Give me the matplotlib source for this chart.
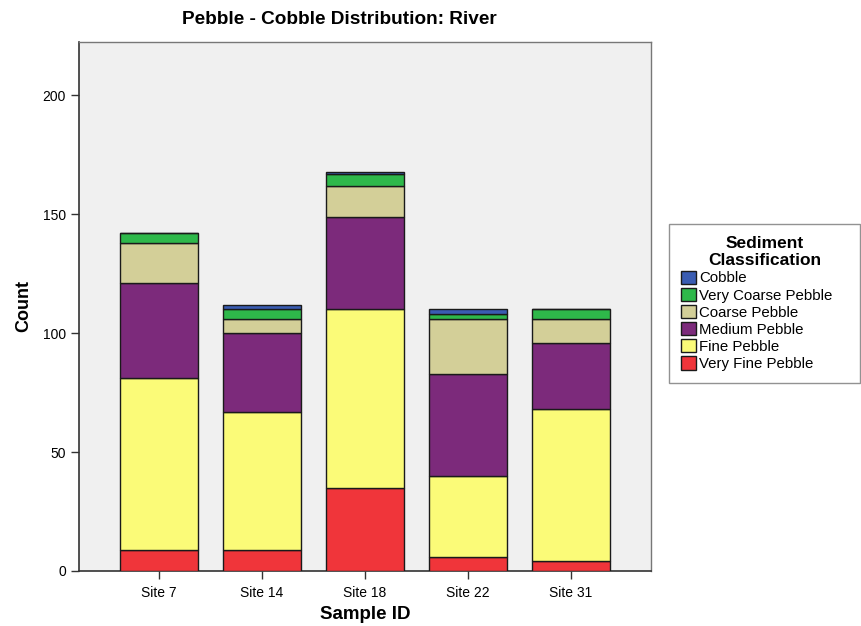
import numpy as np
import matplotlib
matplotlib.use('Agg')
import matplotlib.pyplot as plt
from matplotlib.patches import Patch

plt.rcParams['font.family'] = 'Liberation Sans'

sites = ['Site 7', 'Site 14', 'Site 18', 'Site 22', 'Site 31']
classes = ['Very Fine Pebble', 'Fine Pebble', 'Medium Pebble',
           'Coarse Pebble', 'Very Coarse Pebble', 'Cobble']
very_fine = [9, 9, 35, 6, 4]
fine = [72, 58, 75, 34, 64]
medium = [40, 33, 39, 43, 28]
coarse = [17, 6, 13, 23, 10]
very_coarse = [4, 4, 5, 2, 4]
cobble = [0, 2, 1, 2, 0]

colors = ['#f0353a', '#fbfb78', '#7c2a7b', '#d3cf98', '#2eb84a', '#3a5cb2']
series = [very_fine, fine, medium, coarse, very_coarse, cobble]

fig = plt.figure(figsize=(8.61, 6.26), dpi=100)
ax = fig.add_axes([0.0918, 0.0879, 0.6643, 0.845])
ax.set_facecolor('#f0f0f0')

x = np.arange(len(sites))
bottom = np.zeros(len(sites))
for vals, col, name in zip(series, colors, classes):
    vals = np.array(vals, dtype=float)
    ax.bar(x, vals, bottom=bottom, width=0.76, color=col,
           edgecolor='#1a1a1a', linewidth=1.0, label=name, zorder=3)
    bottom += vals

ax.set_xlim(-0.777, 4.777)
ax.set_ylim(0, 222.5)
ax.set_xticks(x)
ax.set_xticklabels(sites, fontsize=10)
ax.set_yticks([0, 50, 100, 150, 200])
ax.tick_params(axis='y', labelsize=10, length=6, color='#333333', width=1)
ax.tick_params(axis='x', length=6, color='#333333', width=1, pad=5)

for s in ['left', 'bottom']:
    ax.spines[s].set_color('#333333')
    ax.spines[s].set_linewidth(1.2)
for s in ['top', 'right']:
    ax.spines[s].set_color('#777777')
    ax.spines[s].set_linewidth(1.0)

ax.set_xlabel('Sample ID', fontsize=13.5, fontweight='bold', labelpad=4)
ax.set_ylabel('Count', fontsize=13, fontweight='bold', labelpad=7)
fig.text(339 / 861, 1 - 19 / 626, 'Pebble - Cobble Distribution: River',
         fontsize=13.7, fontweight='bold', ha='center', va='center')

handles = [Patch(facecolor=c, edgecolor='#1a1a1a', label=n)
           for c, n in zip(colors[::-1], classes[::-1])]
leg = fig.legend(handles=handles, loc='upper left',
                 bbox_to_anchor=(669 / 861, 1 - 380 / 626, 191 / 861, 156 / 626),
                 mode='expand', borderaxespad=0, alignment='center',
                 title='Sediment\nClassification', fontsize=10.8,
                 title_fontproperties={'weight': 'bold', 'size': 12.5},
                 frameon=True, fancybox=False, edgecolor='#777777',
                 handlelength=1.0, handleheight=1.0, handletextpad=0.2,
                 labelspacing=0.15, borderpad=0.8)
leg.get_frame().set_linewidth(1.0)
leg.get_title().set_multialignment('center')

fig.savefig('out.png', dpi=100)
